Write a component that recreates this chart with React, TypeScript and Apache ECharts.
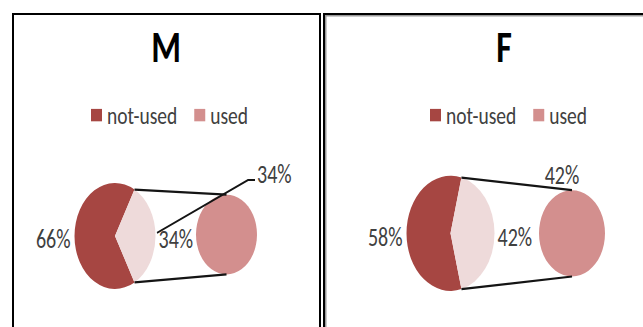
import React, { useEffect, useRef } from "react";
import * as echarts from "echarts";

// ---- data ----
const panelTitles = ["M", "F"];
const legendNames = ["not-used", "used"];
const otherName = "used (split)";
const notUsedPct = [66, 58];
const usedPct = [34, 42];

// ---- styling / layout ----
const C_NOT = "#A64642";
const C_OTHER = "#EEDADA";
const C_USED = "#D38F8E";
const TXT = "#404040";
const FONT = "Carlito, Lato, 'Open Sans', sans-serif";
const S = 1.308; // vertical stretch of the original picture
const W = 643;
const H = 250;

type Lay = {
  title: [number, number];
  legendLeft: number;
  main: [number, number, number];
  sec: [number, number, number];
  secLabel: [number, number, "left" | "center"];
  leader: number[][] | null;
};

const layout: Lay[] = [
  {
    title: [166, 35.5],
    legendLeft: 91,
    main: [115, 180.4, 40.5],
    sec: [226.5, 179.3, 30.5],
    secLabel: [257, 133, "left"],
    leader: [
      [157, 178.1],
      [248, 137.6],
      [255, 137.6],
    ],
  },
  {
    title: [504, 35.5],
    legendLeft: 430,
    main: [450.5, 178.4, 44],
    sec: [572, 178.4, 33],
    secLabel: [562, 133.8, "center"],
    leader: null,
  },
];

const labelStyle = {
  show: true,
  formatter: "{c}%",
  fontSize: 20,
  fontFamily: FONT,
  color: TXT,
  overflow: "none",
};

function buildOption() {
  const series: any[] = [];
  const graphic: any[] = [];
  const legends: any[] = [];

  panelTitles.forEach((t, p) => {
    const L = layout[p];
    const nu = notUsedPct[p];
    const u = usedPct[p];
    const total = nu + u;
    const [mx, my, mr] = L.main;
    const [sx, sy, sr] = L.sec;
    const startAngle = ((nu + u / 2) / total) * 360;

    series.push({
      type: "pie",
      center: [mx, my],
      radius: [0, mr],
      startAngle,
      clockwise: true,
      silent: true,
      avoidLabelOverlap: false,
      itemStyle: { borderWidth: 0 },
      label: labelStyle,
      labelLine: { show: false },
      labelLayout: (params: any) => {
        if (params.dataIndex === 0) {
          return { x: mx - mr - 4, y: my + 2.5, align: "right", verticalAlign: "middle" };
        }
        return { x: mx + mr + 3, y: my + 2.5, align: "left", verticalAlign: "middle" };
      },
      data: [
        { name: legendNames[0], value: nu, itemStyle: { color: C_NOT } },
        { name: otherName + " " + t, value: u, itemStyle: { color: C_OTHER } },
      ],
    });

    series.push({
      type: "pie",
      center: [sx, sy],
      radius: [0, sr],
      silent: true,
      avoidLabelOverlap: false,
      itemStyle: { borderWidth: 0 },
      label: labelStyle,
      labelLine: { show: false },
      labelLayout: () => ({
        x: L.secLabel[0],
        y: L.secLabel[1],
        align: L.secLabel[2],
        verticalAlign: "middle",
      }),
      data: [{ name: legendNames[1], value: u, itemStyle: { color: C_USED } }],
    });

    // connector lines from split slice edges to secondary pie top/bottom
    const half = (u / total) * Math.PI;
    const ex = mx + mr * Math.cos(half);
    const eyTop = my - mr * Math.sin(half);
    const eyBot = my + mr * Math.sin(half);
    graphic.push({
      type: "line",
      silent: true,
      shape: { x1: ex, y1: eyTop, x2: sx, y2: sy - sr },
      style: { stroke: "#141414", lineWidth: 1.7 },
      z: 10,
    });
    graphic.push({
      type: "line",
      silent: true,
      shape: { x1: ex, y1: eyBot, x2: sx, y2: sy + sr },
      style: { stroke: "#141414", lineWidth: 1.7 },
      z: 10,
    });
    if (L.leader) {
      graphic.push({
        type: "polyline",
        silent: true,
        shape: { points: L.leader },
        style: { stroke: "#141414", lineWidth: 1.5, fill: null },
        z: 10,
      });
    }
    graphic.push({
      type: "text",
      silent: true,
      x: L.title[0],
      y: L.title[1],
      style: {
        text: t,
        fontSize: 34,
        fontWeight: "bold",
        fontFamily: FONT,
        fill: "#000",
        align: "center",
        verticalAlign: "middle",
        textAlign: "center",
        textVerticalAlign: "middle",
      },
    });

    legends.push({
      data: legendNames,
      left: L.legendLeft,
      top: 78,
      padding: 0,
      itemGap: 17,
      itemWidth: 11,
      itemHeight: 9.5,
      icon: "rect",
      selectedMode: false,
      textStyle: { fontSize: 19.5, fontFamily: FONT, color: TXT },
    });
  });

  return {
    animation: false,
    backgroundColor: "#fff",
    legend: legends,
    series,
    graphic,
  };
}

export default function App() {
  const ref = useRef<HTMLDivElement>(null);
  useEffect(() => {
    if (!ref.current) return;
    const chart = echarts.init(ref.current, undefined, { renderer: "svg" });
    chart.setOption(buildOption() as any);
    return () => chart.dispose();
  }, []);

  return (
    <div
      style={{
        position: "fixed",
        left: 0,
        top: 0,
        width: W,
        height: 327,
        overflow: "hidden",
        background: "#fff",
      }}
    >
      <div
        ref={ref}
        style={{
          position: "absolute",
          left: 0,
          top: 0,
          width: W,
          height: H,
          transform: `scaleY(${S})`,
          transformOrigin: "0 0",
        }}
      />
      <div
        style={{
          position: "absolute",
          left: 12,
          top: 13,
          width: 309,
          height: 400,
          boxSizing: "border-box",
          border: "2.5px solid #000",
          pointerEvents: "none",
        }}
      />
      <div
        style={{
          position: "absolute",
          left: 323,
          top: 13,
          width: 400,
          height: 400,
          boxSizing: "border-box",
          border: "2.5px solid #000",
          boxShadow: "inset 1.5px 1.5px 0 #9a9a9a",
          pointerEvents: "none",
        }}
      />
    </div>
  );
}
